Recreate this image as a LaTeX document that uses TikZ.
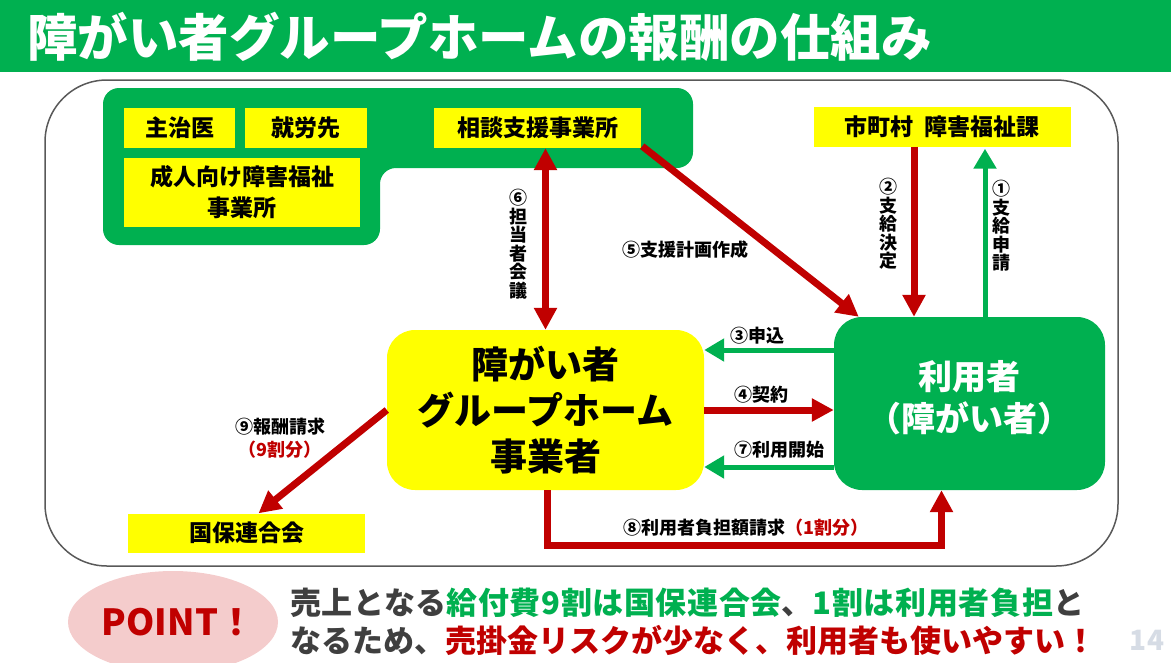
\documentclass[tikz,border=0pt]{standalone}
\usepackage{fontspec}
\setmainfont{Noto Sans CJK JP}
\usetikzlibrary{arrows.meta,calc,shapes.geometric}
\definecolor{gr}{HTML}{00B050}
\definecolor{rd}{HTML}{C00000}
\definecolor{yl}{HTML}{FFFF00}
\definecolor{pk}{HTML}{F4CCCC}
\definecolor{dg}{HTML}{3F3F3F}
\definecolor{pg}{HTML}{D6DCE5}
\definecolor{ol}{HTML}{595959}
\tikzset{
  rtip/.tip={Triangle[length=22pt,width=22pt]},
  gtip/.tip={Triangle[length=20pt,width=22pt]},
  ybox/.style={fill=yl, inner sep=0pt, align=center, font=\bfseries\fontsize{23}{31}\selectfont},
  redarrow/.style={draw=rd, line width=7pt, arrows={-rtip}},
  grarrow/.style={draw=gr, line width=5pt, arrows={-gtip}},
  lbl/.style={inner sep=0pt, align=center, font=\bfseries\fontsize{18}{18.5}\selectfont},
}
\begin{document}
\begin{tikzpicture}[x=1pt,y=-1pt]
\useasboundingbox (0,0) rectangle (1171,662);
% title
\fill[gr] (0,0) rectangle (1171,72);
\node[anchor=west, inner sep=0pt, text=white, font=\bfseries\fontsize{50.5}{56}\selectfont] (title) at (27,37) {障がい者グループホームの報酬の仕組み};
% frame
\draw[ol, line width=1.5pt, rounded corners=62pt] (45,80) rectangle (1118,566);
% group
\fill[gr, rounded corners=16pt] (103,88) -- (693,88) -- (693,168) -- (380,168) -- (380,245) -- (103,245) -- cycle;
\node[ybox, minimum width=111pt, minimum height=40pt] (shuji) at (179.5,128) {主治医};
\node[ybox, minimum width=122pt, minimum height=40pt] (shuro) at (306,128) {就労先};
\node[ybox, minimum width=207pt, minimum height=40pt] (soudan) at (537.5,128) {相談支援事業所};
\node[ybox, minimum width=236pt, minimum height=69pt] (seijin) at (242,192.5) {成人向け障害福祉\\事業所};
\node[ybox, minimum width=257pt, minimum height=40pt] (shichoson) at (942,126.5) {市町村\hspace{0.45em}障害福祉課};
\node[ybox, minimum width=237pt, minimum height=39pt] (kokuho) at (246.5,533) {国保連合会};
% main boxes
\node[fill=yl, rounded corners=28pt, minimum width=317pt, minimum height=160pt, inner sep=0pt, align=center, font=\bfseries\fontsize{37}{46}\selectfont] (gh) at (545.5,410) {障がい者\\グループホーム\\事業者};
\node[fill=gr, rounded corners=28pt, minimum width=271pt, minimum height=173pt, inner sep=0pt,
  label={[yshift=6pt, inner sep=0pt, text=white, align=center, font=\bfseries\fontsize{34}{42}\selectfont]center:{利用者\\（障がい者）}}] (user) at (969.5,403.5) {};
% helper coordinates
\coordinate (y3) at (0,350);
\coordinate (y4) at (0,410);
\coordinate (y7) at (0,467);
\coordinate (x2) at (914,0);
\coordinate (x1) at (985,0);
% arrows
\draw[redarrow, arrows={rtip-rtip}] (gh.north |- soudan.south) -- (gh.north);
\draw[redarrow] ($(soudan.south east)+(1,-2)$) -- ($(user.north west)+(25,0)$);
\draw[redarrow] (x2 |- shichoson.south) -- (x2 |- user.north);
\draw[grarrow] (x1 |- user.north) -- ($(x1 |- shichoson.south)+(0,2)$);
\draw[grarrow] (user.west |- y3) -- (gh.east |- y3);
\draw[redarrow] (gh.east |- y4) -- (user.west |- y4);
\draw[grarrow] (user.west |- y7) -- (gh.east |- y7);
\draw[redarrow] ($(gh.south)+(2,0)$) |- ($(user.south)+(-28,55)$) -- ($(user.south)+(-28,0)$);
\draw[redarrow] (gh.west) -- ($(kokuho.north)+(12,0)$);
% labels
\node[lbl] (l6) at (518,244) {⑥\\担\\当\\者\\会\\議};
\node[lbl] (l5) at (685,250) {⑤支援計画作成};
\node[lbl] (l2) at (888,224) {②\\支\\給\\決\\定};
\node[lbl] (l1) at (1001,226) {①\\支\\給\\申\\請};
\node[lbl] (l3) at (757,336) {③申込};
\node[lbl] (l4) at (761,395) {④契約};
\node[lbl] (l7) at (779,450) {⑦利用開始};
\node[lbl] (l8) at (746,528) {⑧利用者負担額請求\textcolor{rd}{（1割分）}};
\node[lbl] (l9) at (280,427) {⑨報酬請求};
\node[lbl, text=rd] (l9b) at (280,450) {（9割分）};
% point
\node[ellipse, fill=pk, minimum width=210pt, minimum height=102pt, inner sep=0pt] (pointbg) at (173,622) {};
\node[inner sep=0pt, text=rd, font=\bfseries\fontsize{36}{40}\selectfont] (point) at (178,622) {POINT！};
\node[anchor=west, inner sep=0pt, text=dg, font=\bfseries\fontsize{31}{37}\selectfont\addfontfeatures{LetterSpace=2}] (line1) at (290,603) {売上となる\textcolor{gr}{給付費9割は国保連合会}、\textcolor{gr}{1割は利用者負担}と};
\node[anchor=west, inner sep=0pt, text=dg, font=\bfseries\fontsize{31}{37}\selectfont] (line2) at (290,640) {なるため、\textcolor{rd}{売掛金リスクが少なく、利用者も使いやすい！}};
\node[inner sep=0pt, text=pg, font=\bfseries\fontsize{28}{32}\selectfont] (page) at (1147,640) {14};
\end{tikzpicture}
\end{document}
